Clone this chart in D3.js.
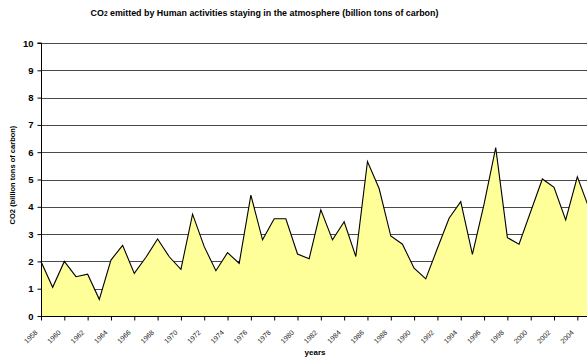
<!DOCTYPE html>
<html>
<head>
<meta charset="utf-8">
<script src="https://cdn.jsdelivr.net/npm/d3@7"></script>
<style>
  html, body { margin: 0; padding: 0; background: #fff; }
  svg { display: block; font-family: "Liberation Sans", Arial, sans-serif; }
</style>
</head>
<body>
<svg id="chart" width="587" height="360"></svg>
<script>
// Yearly CO2 staying in the atmosphere (billion tons of carbon)
const years = d3.range(1958, 2006);
const co2 = [
  2.00, 1.05, 2.00, 1.44, 1.53, 0.61, 2.05, 2.59, 1.56, 2.15,
  2.82, 2.17, 1.71, 3.73, 2.54, 1.66, 2.32, 1.93, 4.43, 2.79,
  3.56, 3.56, 2.27, 2.10, 3.89, 2.79, 3.45, 2.18, 5.66, 4.67,
  2.93, 2.63, 1.75, 1.36, 2.48, 3.58, 4.19, 2.26, 4.10, 6.17,
  2.87, 2.63, 3.83, 5.02, 4.71, 3.52, 5.10, 3.95
];
const xTickYears = d3.range(1958, 2005, 2);
const yTicks = d3.range(0, 11, 1);

const svg = d3.select("#chart");
const plotLeft = 41, plotRight = 589, plotTop = 43, plotBottom = 316;

const x = d3.scaleLinear().domain([1958, 2005]).range([plotLeft, plotRight]);
const y = d3.scaleLinear().domain([0, 10]).range([plotBottom, plotTop]);

const data = years.map((yr, i) => ({ year: yr, value: co2[i] }));

// Horizontal gridlines
svg.append("g")
  .selectAll("line")
  .data(yTicks.filter(v => v > 0))
  .join("line")
  .attr("x1", plotLeft).attr("x2", 587)
  .attr("y1", d => Math.round(y(d)) + 0.5)
  .attr("y2", d => Math.round(y(d)) + 0.5)
  .attr("stroke", "#4a4a4a")
  .attr("stroke-width", 1);

// Filled area with outline
const area = d3.area()
  .x(d => x(d.year))
  .y0(y(0))
  .y1(d => y(d.value));
const line = d3.line()
  .x(d => x(d.year))
  .y(d => y(d.value));

svg.append("path")
  .datum(data)
  .attr("d", area)
  .attr("fill", "#FFFF99");
svg.append("path")
  .datum(data)
  .attr("d", line)
  .attr("fill", "none")
  .attr("stroke", "#000")
  .attr("stroke-width", 1.1)
  .attr("stroke-linejoin", "miter");

// Y axis
const yAxis = d3.axisLeft(y)
  .tickValues(yTicks)
  .tickSize(4)
  .tickPadding(4)
  .tickFormat(d3.format("d"));
const gy = svg.append("g")
  .attr("transform", `translate(${plotLeft + 0.5},0)`)
  .call(yAxis);
gy.select(".domain").attr("stroke", "#000").attr("d", `M-4,${y(10)}H0V${y(0)}`);
gy.selectAll(".tick line").attr("stroke", "#000");
gy.selectAll(".tick text")
  .attr("font-size", "9.5px")
  .attr("font-weight", "bold")
  .attr("fill", "#000");

// X axis: tick marks from the axis, slanted year labels in their own groups
const xAxis = d3.axisBottom(x)
  .tickValues(xTickYears)
  .tickSize(4)
  .tickFormat("");
const axisY = Math.round(plotBottom) + 0.5;
const gx = svg.append("g")
  .attr("transform", `translate(0,${axisY})`)
  .call(xAxis);
gx.select(".domain").attr("stroke", "#000").attr("d", `M${plotLeft},0H587`);
gx.selectAll(".tick line").attr("stroke", "#000");

svg.append("g")
  .selectAll("g")
  .data(xTickYears)
  .join("g")
  .attr("transform", d => `translate(${x(d) - 3},${axisY + 16.5}) rotate(-45)`)
  .append("text")
  .attr("text-anchor", "end")
  .attr("font-size", "7px")
  .attr("fill", "#222")
  .text(d => d);

// Title
const title = svg.append("text")
  .attr("x", 264.5)
  .attr("y", 16)
  .attr("text-anchor", "middle")
  .attr("font-size", "8.9px")
  .attr("font-weight", "bold")
  .attr("fill", "#000");
title.append("tspan").text("CO");
title.append("tspan").attr("font-size", "6.5px").text("2");
title.append("tspan").text(" emitted by Human activities staying in the atmosphere (billion tons of carbon)");

// Axis titles
svg.append("text")
  .attr("x", 315)
  .attr("y", 355)
  .attr("text-anchor", "middle")
  .attr("font-size", "8px")
  .attr("font-weight", "bold")
  .text("years");

svg.append("text")
  .attr("transform", "translate(15,175) rotate(-90)")
  .attr("text-anchor", "middle")
  .attr("font-size", "7.5px")
  .attr("font-weight", "bold")
  .text("CO2 (billion tons of carbon)");
</script>
</body>
</html>
